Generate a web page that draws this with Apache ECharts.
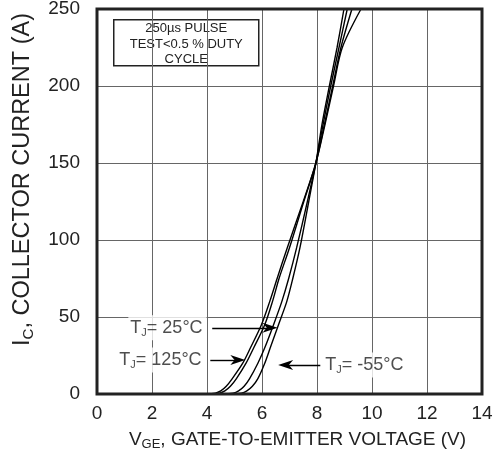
<!DOCTYPE html>
<html>
<head>
<meta charset="utf-8">
<script src="https://cdn.jsdelivr.net/npm/echarts@6/dist/echarts.min.js"></script>
<style>html,body{margin:0;padding:0;background:#fff;}#c{width:498px;height:452px;}</style>
</head>
<body>
<div id="c"></div>
<script>
// Tick values
var xTicks = [0, 2, 4, 6, 8, 10, 12, 14];
var yTicks = [0, 50, 100, 150, 200, 250];
// Current levels (A) at which V_GE was read for every curve
var currentLevels = [0, 0.5, 2, 5, 10, 20, 30, 45, 60, 75, 95, 125, 150, 175, 200, 225, 250];
// V_GE (V) at each current level
var vge125 = [4.0, 4.3, 4.5, 4.7, 4.92, 5.3, 5.58, 5.98, 6.28, 6.55, 6.92, 7.5, 7.96, 8.29, 8.6, 8.92, 9.6];
var vge125b = [4.15, 4.45, 4.65, 4.85, 5.07, 5.42, 5.7, 6.1, 6.38, 6.62, 7.0, 7.52, 7.96, 8.27, 8.57, 8.87, 9.27];
var vge25 = [4.6, 4.95, 5.15, 5.35, 5.55, 5.85, 6.1, 6.42, 6.72, 6.97, 7.26, 7.65, 7.96, 8.22, 8.5, 8.8, 9.1];
var vgeM55 = [4.9, 5.25, 5.45, 5.65, 5.85, 6.1, 6.3, 6.6, 6.9, 7.12, 7.38, 7.7, 7.96, 8.18, 8.45, 8.73, 8.98];
// Annotation labels: [x, y, text]
var labelPts = [[1.14, 43, '25°C'], [0.74, 22, '125°C'], [8.23, 18.8, '-55°C']];
// Arrows: [[x1,y1],[x2,y2]] start -> arrowhead centre
var arrows = [[[4.19, 43], [6.29, 43]], [[4.12, 22], [5.12, 22]], [[8.12, 18.8], [6.86, 18.8]]];
var noteLines = ['250µs PULSE', 'TEST<0.5 % DUTY', 'CYCLE'];

var font = 'Liberation Sans, Arial, sans-serif';
var chart = echarts.init(document.getElementById('c'));
function curveSeries(vs) {
  var d = [[0, 0]].concat(vs.map(function (v, i) { return [v, currentLevels[i]]; }));
  return {type: 'line', data: d, smooth: 0.3, showSymbol: false, symbol: 'none',
    lineStyle: {color: '#000', width: 1.4}, z: 3, silent: true};
}
var arrowPath = 'path://M0,0 L5,14 L0,10 L-5,14 Z';
chart.setOption({
  animation: false,
  backgroundColor: '#fff',
  grid: {left: 97, right: 16, top: 9, bottom: 58, outerBoundsMode: 'none', containLabel: false, show: true, borderColor: '#222', borderWidth: 3, backgroundColor: 'transparent', z: 5},
  xAxis: {
    type: 'value', min: xTicks[0], max: xTicks[xTicks.length - 1], interval: 2,
    axisLine: {show: false}, axisTick: {show: false},
    splitLine: {show: true, lineStyle: {color: '#666', width: 1}},
    axisLabel: {color: '#222', fontSize: 19, fontFamily: font, margin: 10},
    name: '{n|V}{s|GE}{n|, GATE-TO-EMITTER VOLTAGE (V)}',
    nameLocation: 'middle', nameGap: 35,
    nameTextStyle: {padding: [0, 0, 0, 16], rich: {n: {fontSize: 19, fontFamily: font, color: '#222'}, s: {fontSize: 13, fontFamily: font, color: '#222', verticalAlign: 'bottom', padding: [9, 0, 0, 0]}}}
  },
  yAxis: {
    type: 'value', min: yTicks[0], max: yTicks[yTicks.length - 1], interval: 50,
    axisLine: {show: false}, axisTick: {show: false},
    splitLine: {show: true, lineStyle: {color: '#666', width: 1}},
    axisLabel: {color: '#222', fontSize: 19, fontFamily: font, margin: 17},
    name: '{n|I}{s|C}{n|, COLLECTOR CURRENT (A)}',
    nameLocation: 'middle', nameGap: 61,
    nameTextStyle: {padding: [0, 0, 0, 44], rich: {n: {fontSize: 23.5, fontFamily: font, color: '#222'}, s: {fontSize: 15, fontFamily: font, color: '#222', verticalAlign: 'bottom', padding: [11, 0, 0, 0]}}}
  },
  series: [
    curveSeries(vge125), curveSeries(vge125b), curveSeries(vge25), curveSeries(vgeM55),
    {
      type: 'scatter', symbolSize: 0, z: 6,
      data: labelPts.map(function (p) { return {value: [p[0], p[1]], name: p[2]}; }),
      label: {
        show: true, position: 'right', distance: 0,
        formatter: function (p) { return '{t|T}{s|J}{t|= ' + p.name + '}'; },
        backgroundColor: '#fff', padding: [2, 4, 2, 2],
        rich: {t: {fontSize: 18, fontFamily: font, color: '#222'}, s: {fontSize: 11, fontFamily: font, color: '#222', verticalAlign: 'bottom', padding: [10, 0, 0, 0]}}
      },
      markLine: {
        silent: true, animation: false, z: 6,
        lineStyle: {color: '#000', width: 1.4, type: 'solid'},
        label: {show: false},
        data: arrows.map(function (a) {
          return [{coord: a[0], symbol: 'none'}, {coord: a[1], symbol: arrowPath, symbolSize: [10, 15]}];
        })
      }
    }
  ],
  graphic: [{
    type: 'group', left: 113, top: 19, z: 10,
    children: [
      {type: 'rect', shape: {x: 0, y: 0, width: 145, height: 46}, style: {fill: '#fff', stroke: '#222', lineWidth: 1.5}},
      {type: 'text', style: {x: 72.5, y: 1, text: noteLines.join('\n'), font: '13px ' + font, fill: '#222', align: 'center', verticalAlign: 'top', lineHeight: 15.5}}
    ]
  }]
});
</script>
</body>
</html>
